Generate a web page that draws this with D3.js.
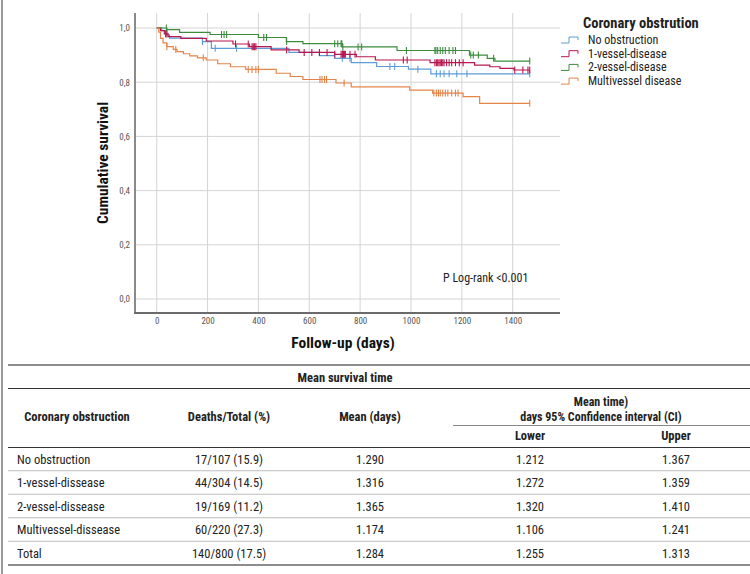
<!DOCTYPE html>
<html>
<head>
<meta charset="utf-8">
<script src="https://cdn.jsdelivr.net/npm/d3@7"></script>
<style>
  body { margin: 0; background: #fff; }
  svg { display: block; }
</style>
</head>
<body>
<svg id="chart" width="750" height="574"></svg>
<script>
// ---------- DATA ----------
const xTicks = [0, 200, 400, 600, 800, 1000, 1200, 1400];
const yTicks = [0, 0.2, 0.4, 0.6, 0.8, 1.0];
const endTime = 1467;

const seriesNames = ["No obstruction", "1-vessel-disease", "2-vessel-disease", "Multivessel disease"];
const seriesColors = ["#5d9cd6", "#b8174f", "#3d8b3d", "#e4844a"];

// No obstruction
const noObsTimes = [0, 20, 40, 50, 180, 215, 520, 640, 700, 765, 865, 990, 1078];
const noObsSurv  = [1.000, 0.990, 0.975, 0.963, 0.950, 0.925, 0.910, 0.898, 0.888, 0.872, 0.858, 0.848, 0.831];
const noObsCensor = [180, 230, 314, 730, 760, 917, 936, 1027, 1100, 1115, 1130, 1150, 1180, 1220, 1467];

// 1-vessel-disease
const oneVTimes = [0, 15, 30, 45, 95, 195, 300, 365, 450, 560, 700, 785, 860, 1075, 1250, 1310, 1350, 1405];
const oneVSurv  = [1.000, 0.990, 0.978, 0.968, 0.962, 0.952, 0.941, 0.931, 0.919, 0.910, 0.903, 0.894, 0.882, 0.872, 0.863, 0.857, 0.851, 0.845];
const oneVCensor = [35, 40, 310, 360, 375, 380, 385, 390, 511, 580, 610, 640, 670, 700, 725, 730, 732, 735, 738, 742, 760, 780, 970, 985,
                    1094, 1100, 1105, 1110, 1115, 1120, 1125, 1130, 1140, 1150, 1160, 1175, 1190, 1205, 1408, 1440, 1460, 1467];

// 2-vessel-disease
const twoVTimes = [0, 40, 90, 210, 400, 510, 575, 730, 945, 1230, 1300, 1330];
const twoVSurv  = [1.000, 0.994, 0.984, 0.976, 0.965, 0.950, 0.942, 0.930, 0.917, 0.900, 0.888, 0.878];
const twoVCensor = [38, 255, 265, 275, 421, 432, 511, 700, 712, 725, 728, 732, 792, 806, 982,
                    1094, 1098, 1105, 1115, 1125, 1135, 1150, 1165, 1175, 1235, 1245, 1265, 1325, 1467];

// Multivessel disease
const multiTimes = [0, 8, 15, 25, 40, 65, 80, 105, 130, 160, 195, 240, 290, 350, 470, 525, 575, 705, 765, 995, 1085, 1205, 1270];
const multiSurv  = [1.000, 0.985, 0.962, 0.945, 0.931, 0.921, 0.913, 0.905, 0.897, 0.890, 0.882, 0.868, 0.857, 0.847, 0.833, 0.821, 0.810, 0.797, 0.783, 0.771, 0.760, 0.747, 0.722];
const multiCensor = [40, 75, 183, 360, 375, 390, 400, 642, 650, 660, 668, 737,
                     1090, 1100, 1108, 1115, 1125, 1135, 1145, 1160, 1175, 1185, 1467];

const pText = "P Log-rank <0.001";

// Table
const tableTitle = "Mean survival time";
const tableGroups = ["No obstruction", "1-vessel-dissease", "2-vessel-dissease", "Multivessel-dissease", "Total"];
const deathsTotal = ["17/107 (15.9)", "44/304 (14.5)", "19/169 (11.2)", "60/220 (27.3)", "140/800 (17.5)"];
const meanDays = ["1.290", "1.316", "1.365", "1.174", "1.284"];
const lowerCI = ["1.212", "1.272", "1.320", "1.106", "1.255"];
const upperCI = ["1.367", "1.359", "1.410", "1.241", "1.313"];

// ---------- DRAW ----------
const NARROW = "'Liberation Sans Narrow', 'Arial Narrow', 'Roboto Condensed', sans-serif";
const svg = d3.select("#chart");

svg.append("line").attr("x1", 2).attr("x2", 2).attr("y1", 0).attr("y2", 574)
  .attr("stroke", "#9a9a9a").attr("stroke-width", 2);

const plotL = 135, plotR = 560, plotT = 13, plotB = 313;
const x = d3.scaleLinear().domain([0, 1400]).range([156.7, 512.7]);
const y = d3.scaleLinear().domain([0, 1]).range([299, 28]);

// gridlines
svg.append("g").selectAll("line").data(yTicks).join("line")
  .attr("x1", plotL).attr("x2", plotR)
  .attr("y1", d => y(d)).attr("y2", d => y(d))
  .attr("stroke", "#d4d4d4").attr("stroke-width", 1);
svg.append("g").selectAll("line").data(xTicks).join("line")
  .attr("x1", d => x(d)).attr("x2", d => x(d))
  .attr("y1", plotT).attr("y2", plotB)
  .attr("stroke", "#d4d4d4").attr("stroke-width", 1);

// axes
const fmtY = d => d3.format(".1f")(d).replace(".", ",");
const yAxis = svg.append("g").attr("transform", `translate(${plotL},0)`)
  .call(d3.axisLeft(y).tickValues(yTicks).tickFormat(fmtY).tickSize(0).tickPadding(5));
yAxis.select(".domain").remove();
const xAxis = svg.append("g").attr("transform", `translate(0,${plotB})`)
  .call(d3.axisBottom(x).tickValues(xTicks).tickFormat(d3.format("d")).tickSize(0).tickPadding(5));
xAxis.select(".domain").remove();
svg.selectAll(".tick text").attr("font-family", NARROW).attr("font-size", 9).attr("fill", "#555");

svg.append("line").attr("x1", plotL).attr("x2", plotL).attr("y1", plotT).attr("y2", plotB + 1)
  .attr("stroke", "#8a8a8a").attr("stroke-width", 2);
svg.append("line").attr("x1", plotL - 1).attr("x2", plotR).attr("y1", plotB).attr("y2", plotB)
  .attr("stroke", "#6a6a6a").attr("stroke-width", 2);

// axis titles
svg.append("text").attr("transform", `translate(108,${(plotT + plotB) / 2}) rotate(-90)`)
  .attr("text-anchor", "middle").attr("font-family", NARROW).attr("font-weight", "bold")
  .attr("font-size", 15.5).attr("fill", "#111").text("Cumulative survival");
svg.append("text").attr("x", 343).attr("y", 348)
  .attr("text-anchor", "middle").attr("font-family", NARROW).attr("font-weight", "bold")
  .attr("font-size", 15.5).attr("fill", "#111").text("Follow-up (days)");

// curves
const groups = [
  {times: noObsTimes, surv: noObsSurv, censor: noObsCensor},
  {times: oneVTimes, surv: oneVSurv, censor: oneVCensor},
  {times: twoVTimes, surv: twoVSurv, censor: twoVCensor},
  {times: multiTimes, surv: multiSurv, censor: multiCensor}
];
const stepLine = d3.line().x(d => x(d[0])).y(d => y(d[1])).curve(d3.curveStepAfter);
const survAt = (g, t) => { let s = g.surv[0]; g.times.forEach((tt, i) => { if (tt <= t) s = g.surv[i]; }); return s; };

groups.forEach((g, gi) => {
  const pts = g.times.map((t, i) => [t, g.surv[i]]);
  pts.push([endTime, g.surv[g.surv.length - 1]]);
  svg.append("path").attr("d", stepLine(pts)).attr("fill", "none")
    .attr("stroke", seriesColors[gi]).attr("stroke-width", 1.2);
  svg.append("g").selectAll("line").data(g.censor).join("line")
    .attr("x1", d => x(d)).attr("x2", d => x(d))
    .attr("y1", d => y(survAt(g, d)) - 3.5).attr("y2", d => y(survAt(g, d)) + 3.5)
    .attr("stroke", seriesColors[gi]).attr("stroke-width", 1.1);
});

// p-value
svg.append("text").attr("x", 443).attr("y", 282).attr("font-family", NARROW)
  .attr("font-size", 12).attr("fill", "#222").text(pText);

// legend
svg.append("text").attr("x", 583).attr("y", 28).attr("font-family", NARROW).attr("font-weight", "bold")
  .attr("font-size", 14.5).attr("fill", "#222").text("Coronary obstrution");
seriesNames.forEach((n, i) => {
  const ly = 40 + i * 13.7;
  svg.append("path").attr("d", `M561,${ly + 3}H569V${ly - 3}H578V${ly}`)
    .attr("fill", "none").attr("stroke", seriesColors[i]).attr("stroke-width", 1);
  svg.append("text").attr("x", 588).attr("y", ly + 4).attr("font-family", NARROW)
    .attr("font-size", 12).attr("fill", "#222").text(n);
});

// ---------- TABLE ----------
const T = svg.append("g").attr("font-family", NARROW).attr("fill", "#222");
const colC = [17, 229, 370, 530, 676];
const hline = (y0, x0, x1, c, w) => T.append("line").attr("x1", x0).attr("x2", x1).attr("y1", y0).attr("y2", y0)
  .attr("stroke", c).attr("stroke-width", w);
hline(365, 8, 750, "#8c8c8c", 2.2);
hline(388.5, 8, 750, "#333", 1);
hline(425.5, 453, 750, "#888", 1);
hline(447.5, 8, 750, "#333", 1);
const hdr = (tx, xx, yy, anchor, fs) => T.append("text").attr("x", xx).attr("y", yy).attr("text-anchor", anchor || "middle")
  .attr("font-weight", "bold").attr("font-size", fs || 12.5).text(tx);
hdr(tableTitle, 345, 382);
hdr("Coronary obstruction", 77, 421);
hdr("Deaths/Total (%)", 229, 421);
hdr("Mean (days)", 370, 421);
hdr("Mean time)", 601, 406, "middle", 12);
hdr("days 95% Confidence interval (CI)", 601, 421, "middle", 12);
hdr("Lower", 530, 440);
hdr("Upper", 676, 440);

const rowH = 23.5;
tableGroups.forEach((g, i) => {
  const yc = 459 + i * rowH;
  const cells = [g, deathsTotal[i], meanDays[i], lowerCI[i], upperCI[i]];
  cells.forEach((c, j) => {
    T.append("text").attr("x", colC[j]).attr("y", yc + 4.5)
      .attr("text-anchor", j === 0 ? "start" : "middle").attr("font-size", 12.5).text(c);
  });
  if (i < tableGroups.length - 1) hline(yc + 11.75, 8, 750, "#bdbdbd", 1);
});
hline(565, 8, 750, "#8c8c8c", 2.2);
</script>
</body>
</html>
